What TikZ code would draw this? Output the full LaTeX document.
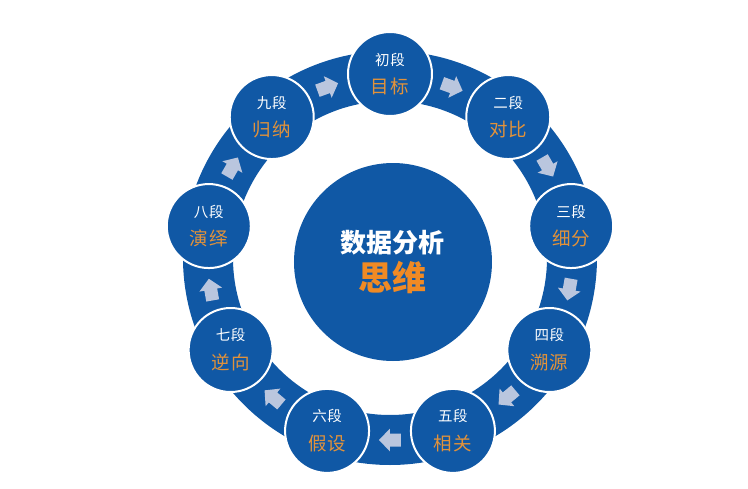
\documentclass[tikz,border=0pt]{standalone}
\usepackage{fontspec}
\setmainfont{Noto Sans CJK SC}
\usetikzlibrary{positioning}
\definecolor{ringblue}{RGB}{16,88,165}
\definecolor{arrowgray}{RGB}{186,198,222}
\definecolor{labelorange}{RGB}{226,146,58}
\definecolor{titleorange}{RGB}{240,138,36}
\newcommand{\stagetext}[2]{{\fontsize{14.5}{16}\selectfont\addfontfeature{LetterSpace=4}\color{white}#1}\\[11pt]{\fontsize{18.5}{20}\selectfont\addfontfeature{LetterSpace=6}\color{labelorange}#2}}

\begin{document}
\begin{tikzpicture}[x=1pt, y=1pt,
  stage/.style={circle, draw=white, line width=2pt, fill=ringblue, minimum size=84pt, inner sep=0pt, align=center},
  core/.style={circle, fill=ringblue, minimum size=198pt, inner sep=0pt, align=center},
  flow/.style={fill=arrowgray},
]
  \useasboundingbox (-390,-230) rectangle (358,258);
  \draw[ringblue, line width=50pt] (0,0) circle (182pt);
  \node[core] (core) at (3,-4) {{\fontsize{26}{30}\selectfont\bfseries\color{white}数据分析}\\[6pt]{\fontsize{34}{38}\selectfont\bfseries\color{titleorange}思维}};
  \foreach \name/\stagenum/\stageword [count=\i from 0] in {s0/初段/目标, s1/二段/对比, s2/三段/细分, s3/四段/溯源, s4/五段/相关, s5/六段/假设, s6/七段/逆向, s7/八段/演绎, s8/九段/归纳}
    \node[stage] (\name) at ({90-40*\i}:184) {\stagetext{\stagenum}{\stageword}};
  \foreach \i in {0,...,8}
    \fill[flow, shift={({70-40*\i}:182)}, rotate={-20-40*\i}] (-11,-6.5) -- (0,-6.5) -- (0,-11.5) -- (11,0) -- (0,11.5) -- (0,6.5) -- (-11,6.5) -- cycle;
\end{tikzpicture}
\end{document}
